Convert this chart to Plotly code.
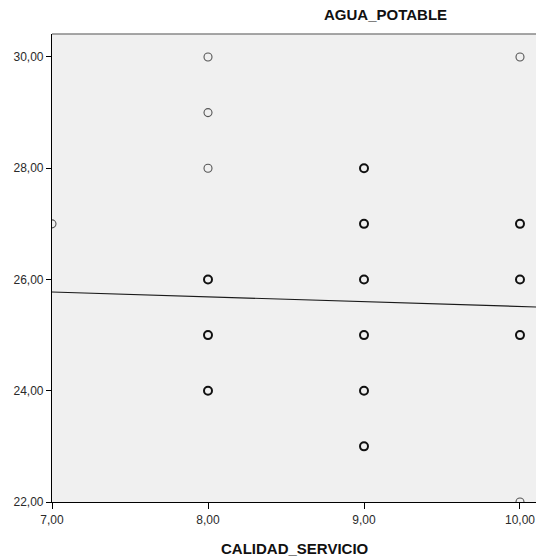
import plotly.graph_objects as go

# Data
calidad_servicio = [7, 8, 8, 8, 8, 8, 8, 9, 9, 9, 9, 9, 9, 10, 10, 10, 10, 10]
agua_potable =     [27, 30, 29, 28, 26, 25, 24, 28, 27, 26, 25, 24, 23, 30, 27, 26, 25, 22]
repeticiones =     [1, 1, 1, 1, 2, 2, 2, 2, 2, 2, 2, 2, 2, 1, 2, 2, 2, 1]

fit_intercept = 26.384
fit_slope = -0.087

x_ticks = [7, 8, 9, 10]
y_ticks = [22, 24, 26, 28, 30]

def fmt(v):
    return f"{v:.2f}".replace(".", ",")

x_range = [7, 10.1026]
y_range = [22, 30.413]

fig = go.Figure()

fit_x = x_range
fit_y = [fit_intercept + fit_slope * v for v in fit_x]
fig.add_trace(go.Scatter(x=fit_x, y=fit_y, mode="lines",
                         line=dict(color="#1a1a1a", width=1.2),
                         hoverinfo="skip", showlegend=False))

fig.add_trace(go.Scatter(
    x=calidad_servicio, y=agua_potable, mode="markers",
    marker=dict(symbol="circle-open", size=8,
                color=["#555555" if r == 1 else "#111111" for r in repeticiones],
                line=dict(width=[1.1 if r == 1 else 2.0 for r in repeticiones])),
    showlegend=False))

fig.update_layout(
    width=536, height=556,
    margin=dict(l=52, r=0, t=34, b=54),
    paper_bgcolor="white",
    plot_bgcolor="#F0F0F0",
    font=dict(family="Liberation Sans, Arial, sans-serif", color="#222222", size=12),
    xaxis=dict(range=x_range, tickvals=x_ticks, ticktext=[fmt(v) for v in x_ticks],
               showgrid=False, zeroline=False, showline=True, linecolor="black",
               linewidth=1.2, ticks="outside", ticklen=6, tickcolor="black",
               tickfont=dict(size=12, color="#2a2a2a")),
    yaxis=dict(range=y_range, tickvals=y_ticks, ticktext=[fmt(v) for v in y_ticks],
               showgrid=False, zeroline=False, showline=True, linecolor="black",
               linewidth=1.2, ticks="outside", ticklen=5, tickcolor="black",
               tickfont=dict(size=12, color="#2a2a2a")),
    shapes=[dict(type="line", xref="paper", yref="paper", x0=0, x1=1, y0=1, y1=1,
                 line=dict(color="#888888", width=1.5))],
    annotations=[
        dict(text="<b>AGUA_POTABLE</b>", xref="paper", yref="paper",
             x=(385 - 52) / 484, y=1, yshift=20, xanchor="center", yanchor="middle",
             showarrow=False, font=dict(size=15, color="#111111")),
        dict(text="<b>CALIDAD_SERVICIO</b>", xref="paper", yref="paper",
             x=(295 - 52) / 484, y=0, yshift=-46, xanchor="center", yanchor="middle",
             showarrow=False, font=dict(size=15, color="#111111")),
    ],
)

fig.write_html("out.html")
